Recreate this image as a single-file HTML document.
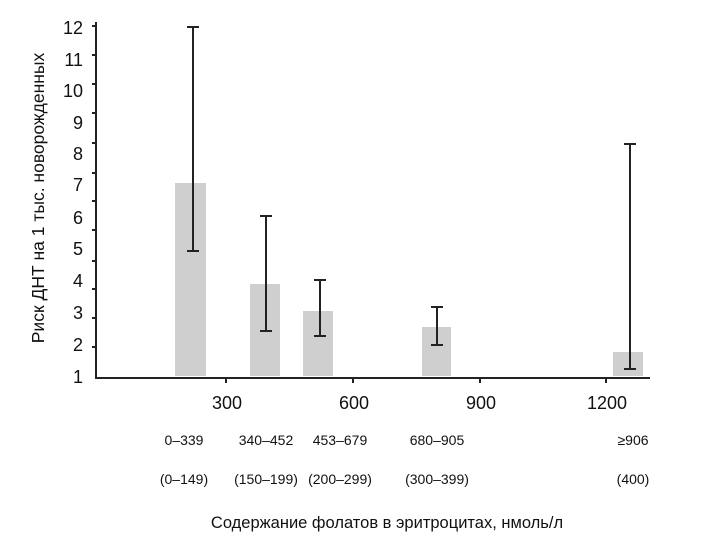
<!DOCTYPE html>
<html><head><meta charset="utf-8"><style>
body{margin:0;background:#fff}
svg{display:block;font-family:"Liberation Sans Narrow","Liberation Sans",sans-serif}
</style></head><body>
<svg width="709" height="542" viewBox="0 0 709 542">
<g fill="#cfcfcf">
<rect x="175" y="183" width="31" height="193"/>
<rect x="250" y="284" width="30" height="92"/>
<rect x="303" y="311" width="30" height="65"/>
<rect x="422" y="327" width="29" height="49"/>
<rect x="613" y="352" width="30" height="24"/>
</g>
<g stroke="#222" stroke-width="2" fill="none">
<path d="M96 22V378H650"/>
<path d="M92 26h4M92 55h4M92 84h4M92 113h4M92 143h4M92 173h4M92 201h4M92 230h4M92 261h4M92 289h4M92 318h4M92 347h4"/>
<path d="M226 378v5M353 378v5M480 378v5M606 378v5"/>
<path d="M193 27V251M187 27h12M187 251h12"/>
<path d="M266 216V331M260 216h12M260 331h12"/>
<path d="M320 280V336M314 280h12M314 336h12"/>
<path d="M437 307V345M431 307h12M431 345h12"/>
<path d="M630 144V369M624 144h12M624 369h12"/>
</g>
<g font-size="18" fill="#111" text-anchor="end">
<text x="83" y="34">12</text><text x="83" y="66">11</text><text x="83" y="97">10</text><text x="83" y="129">9</text><text x="83" y="160">8</text><text x="83" y="191">7</text><text x="83" y="224">6</text><text x="83" y="255">5</text><text x="83" y="287">4</text><text x="83" y="319">3</text><text x="83" y="351">2</text><text x="83" y="383">1</text>
</g>
<g font-size="18" fill="#111" text-anchor="middle">
<text x="227" y="409">300</text><text x="354" y="409">600</text><text x="481" y="409">900</text><text x="607" y="409">1200</text>
</g>
<g font-size="14" fill="#111" text-anchor="middle">
<text x="184" y="445">0–339</text><text x="266" y="445">340–452</text><text x="340" y="445">453–679</text><text x="437" y="445">680–905</text><text x="633" y="445">≥906</text>
<text x="184" y="484">(0–149)</text><text x="266" y="484">(150–199)</text><text x="340" y="484">(200–299)</text><text x="437" y="484">(300–399)</text><text x="633" y="484">(400)</text>
</g>
<text x="387" y="528" font-size="16.5" fill="#111" text-anchor="middle">Содержание фолатов в эритроцитах, нмоль/л</text>
<text transform="translate(44,198) rotate(-90)" font-size="17.5" fill="#111" text-anchor="middle">Риск ДНТ на 1 тыс. новорожденных</text>
</svg>
</body></html>
